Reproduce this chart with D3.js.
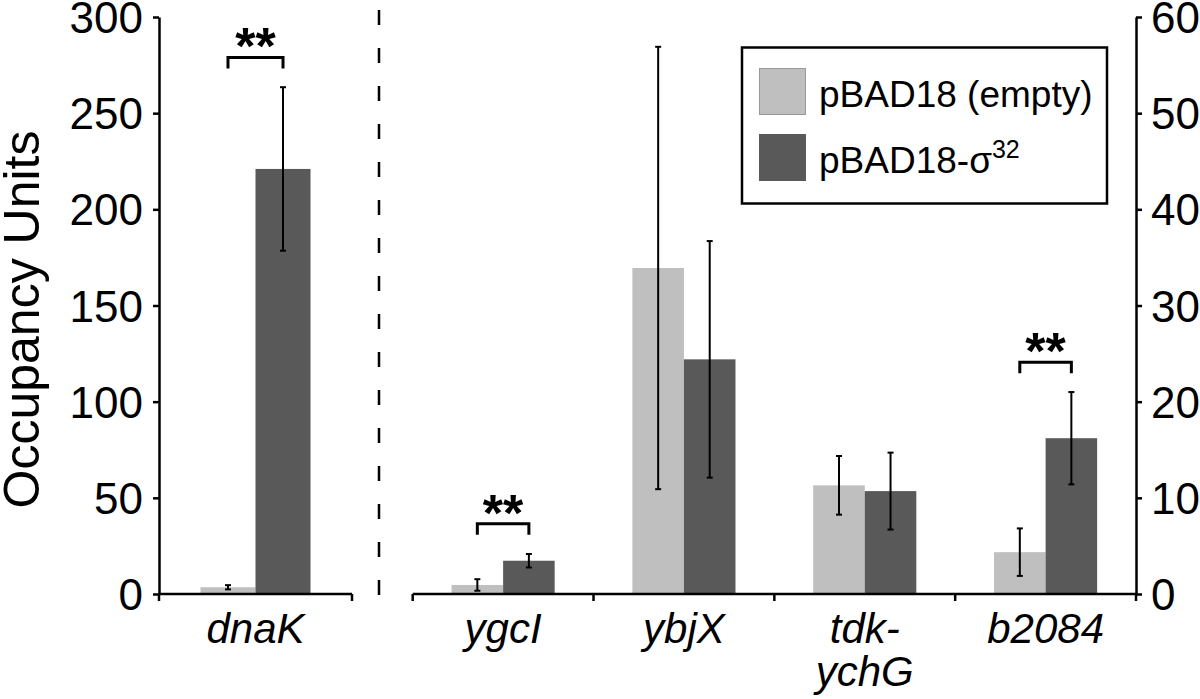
<!DOCTYPE html>
<html>
<head>
<meta charset="utf-8">
<script src="https://cdn.jsdelivr.net/npm/d3@7"></script>
<style>
  html, body { margin: 0; padding: 0; background: #fff; }
  svg { display: block; }
  text { font-family: "Liberation Sans", Arial, sans-serif; fill: #000; }
</style>
</head>
<body>
<svg id="chart" width="1200" height="699"></svg>
<script>
// ---------- data ----------
const categoriesLeft = ["dnaK"];
const categoriesRight = ["ygcI", "ybjX", "tdk-ychG", "b2084"];
const seriesNames = ["pBAD18 (empty)", "pBAD18-σ"];
const seriesSup = ["", "32"];

// left panel (left axis units)
const emptyLeft = [3.5];
const emptyLeftErr = [1.1];
const sigmaLeft = [221];
const sigmaLeftErr = [42.5];

// right panel (right axis units)
const emptyRight = [0.94, 33.9, 11.3, 4.35];
const emptyRightErr = [0.6, 23.0, 3.05, 2.47];
const sigmaRight = [3.46, 24.4, 10.7, 16.2];
const sigmaRightErr = [0.7, 12.3, 4.0, 4.8];

const leftTicks = [0, 50, 100, 150, 200, 250, 300];
const rightTicks = [0, 10, 20, 30, 40, 50, 60];

// significance brackets ("**"): category and level in its panel's units
const sigCategories = ["dnaK", "ygcI", "b2084"];
const sigLevels = [279, 7.3, 24.1];

// ---------- layout ----------
const svg = d3.select("#chart");
const yTop = 17, yBottom = 594;
const leftAxisX = 159, leftPanelEnd = 352;
const rightPanelStart = 412.7, rightAxisX = 1136;
const colors = ["#bfbfbf", "#595959"];

const yLeft = d3.scaleLinear().domain([0, 300]).range([yBottom, yTop]);
const yRight = d3.scaleLinear().domain([0, 60]).range([yBottom, yTop]);

const xLeft = d3.scaleBand().domain(categoriesLeft).range([leftAxisX, leftPanelEnd]);
const xRight = d3.scaleBand().domain(categoriesRight).range([rightPanelStart, rightAxisX]);

const subLeft = d3.scaleBand().domain([0, 1]).range([0, xLeft.bandwidth()]).paddingInner(0).paddingOuter(0.754);
const subRight = d3.scaleBand().domain([0, 1]).range([0, xRight.bandwidth()]).paddingInner(0).paddingOuter(0.754);

function buildRows(cats, s0, e0, s1, e1) {
  const rows = [];
  cats.forEach((c, i) => {
    rows.push({cat: c, s: 0, v: s0[i], e: e0[i]});
    rows.push({cat: c, s: 1, v: s1[i], e: e1[i]});
  });
  return rows;
}
const leftRows = buildRows(categoriesLeft, emptyLeft, emptyLeftErr, sigmaLeft, sigmaLeftErr);
const rightRows = buildRows(categoriesRight, emptyRight, emptyRightErr, sigmaRight, sigmaRightErr);

function drawBars(rows, x, sub, y) {
  const g = svg.append("g");
  g.selectAll("rect").data(rows).enter().append("rect")
    .attr("x", d => x(d.cat) + sub(d.s))
    .attr("width", sub.bandwidth())
    .attr("y", d => y(d.v))
    .attr("height", d => y(0) - y(d.v))
    .attr("fill", d => colors[d.s]);
  const eg = g.selectAll("g.err").data(rows).enter().append("g").attr("class", "err");
  const cx = d => x(d.cat) + sub(d.s) + sub.bandwidth() / 2;
  eg.append("line")
    .attr("x1", cx).attr("x2", cx)
    .attr("y1", d => y(d.v + d.e)).attr("y2", d => y(d.v - d.e))
    .attr("stroke", "#000").attr("stroke-width", 2);
  eg.append("line")
    .attr("x1", d => cx(d) - 3).attr("x2", d => cx(d) + 3)
    .attr("y1", d => y(d.v + d.e)).attr("y2", d => y(d.v + d.e))
    .attr("stroke", "#000").attr("stroke-width", 2);
  eg.append("line")
    .attr("x1", d => cx(d) - 3).attr("x2", d => cx(d) + 3)
    .attr("y1", d => y(d.v - d.e)).attr("y2", d => y(d.v - d.e))
    .attr("stroke", "#000").attr("stroke-width", 2);
}
drawBars(leftRows, xLeft, subLeft, yLeft);
drawBars(rightRows, xRight, subRight, yRight);

// ---------- axes ----------
const axisFont = 44;
const gl = svg.append("g").attr("transform", `translate(${leftAxisX},0)`)
  .call(d3.axisLeft(yLeft).tickValues(leftTicks).tickSize(6).tickSizeOuter(0).tickPadding(10));
const gr = svg.append("g").attr("transform", `translate(${rightAxisX},0)`)
  .call(d3.axisRight(yRight).tickValues(rightTicks).tickSize(6).tickSizeOuter(0).tickPadding(9));
[gl, gr].forEach(g => {
  g.select(".domain").attr("stroke", "#000").attr("stroke-width", 2.5);
  g.selectAll(".tick line").attr("stroke", "#000").attr("stroke-width", 2.5);
  g.selectAll(".tick text").attr("font-size", axisFont).attr("dy", "0.355em")
    .attr("font-family", "Liberation Sans, Arial, sans-serif").attr("fill", "#000");
});

// bottom axes (lines + boundary ticks from band scales)
function bottomAxis(x, cats) {
  const g = svg.append("g");
  const r = x.range();
  g.append("line").attr("x1", r[0]).attr("x2", r[1]).attr("y1", yBottom).attr("y2", yBottom)
    .attr("stroke", "#000").attr("stroke-width", 2.5);
  const bounds = cats.map(c => x(c)).concat([r[1]]);
  g.selectAll("line.t").data(bounds).enter().append("line").attr("class", "t")
    .attr("x1", d => d).attr("x2", d => d).attr("y1", yBottom).attr("y2", yBottom + 7)
    .attr("stroke", "#000").attr("stroke-width", 2.5);
  const lab = g.selectAll("text").data(cats).enter().append("text")
    .attr("text-anchor", "middle").attr("font-size", 42).attr("font-style", "italic")
    .attr("transform", d => `translate(${x(d) + x.bandwidth() / 2},643)`);
  lab.each(function(d) {
    const parts = d.indexOf("-") >= 0 ? [d.split("-")[0] + "-", d.split("-")[1]] : [d];
    const t = d3.select(this);
    parts.forEach((p, i) => t.append("tspan").attr("x", 0).attr("dy", i === 0 ? 0 : 43).text(p));
  });
}
bottomAxis(xLeft, categoriesLeft);
bottomAxis(xRight, categoriesRight);

// y title
svg.append("text")
  .attr("transform", `translate(39,${(yTop + yBottom) / 2 + 14}) rotate(-90)`)
  .attr("text-anchor", "middle").attr("font-size", 50)
  .text("Occupancy Units");

// dashed separator
svg.append("line").attr("x1", 379).attr("x2", 379).attr("y1", 10).attr("y2", 618)
  .attr("stroke", "#000").attr("stroke-width", 2.5).attr("stroke-dasharray", "15,23");

// significance brackets
sigCategories.forEach((c, i) => {
  const isLeft = categoriesLeft.includes(c);
  const x = isLeft ? xLeft : xRight, sub = isLeft ? subLeft : subRight, y = isLeft ? yLeft : yRight;
  const x1 = x(c) + sub(0) + sub.bandwidth() / 2;
  const x2 = x(c) + sub(1) + sub.bandwidth() / 2;
  const yy = y(sigLevels[i]);
  svg.append("path")
    .attr("d", `M${x1},${yy + 11}V${yy}H${x2}V${yy + 11}`)
    .attr("fill", "none").attr("stroke", "#000").attr("stroke-width", 3);
  svg.append("text").attr("x", (x1 + x2) / 2).attr("y", yy + 7)
    .attr("text-anchor", "middle").attr("font-size", 52).attr("font-weight", "bold")
    .text("**");
});

// legend
const lg = svg.append("g");
lg.append("rect").attr("x", 742).attr("y", 47.5).attr("width", 365).attr("height", 156)
  .attr("fill", "#fff").attr("stroke", "#000").attr("stroke-width", 2.5);
seriesNames.forEach((n, i) => {
  const yy = 68.5 + i * 66;
  lg.append("rect").attr("x", 759.5).attr("y", yy).attr("width", 46).attr("height", 46)
    .attr("fill", colors[i]).attr("stroke", i === 0 ? "#999" : colors[i]).attr("stroke-width", 1);
  const t = lg.append("text").attr("x", 819).attr("y", yy + 38).attr("font-size", 37);
  t.append("tspan").text(n);
  if (seriesSup[i]) t.append("tspan").attr("font-size", 25).attr("dy", -15).text(seriesSup[i]);
});
</script>
</body>
</html>
